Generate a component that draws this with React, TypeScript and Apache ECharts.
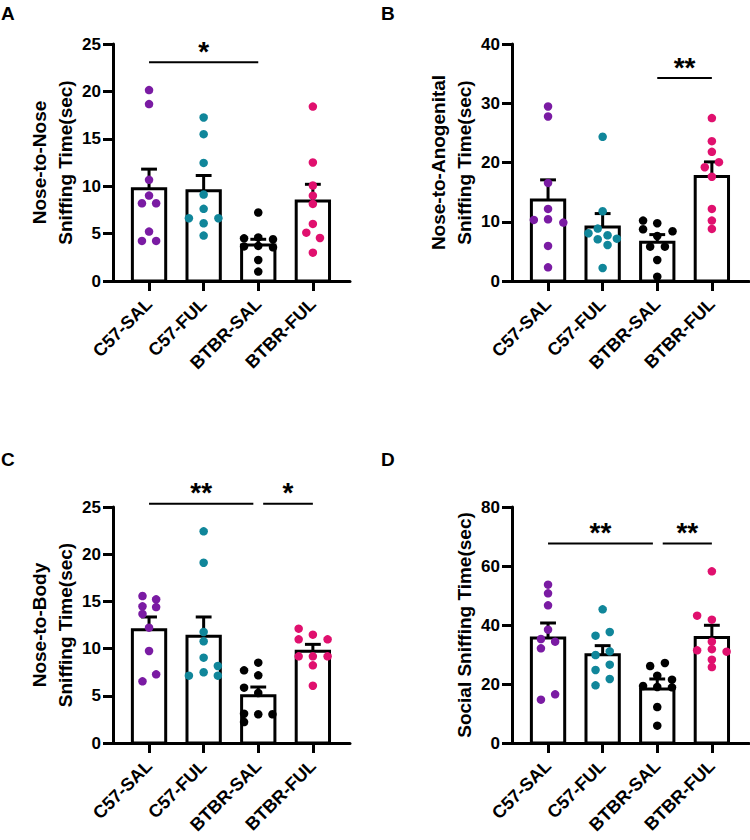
import React, { useEffect, useRef } from "react";
import * as echarts from "echarts";

const FONT = "'Liberation Sans', Arial, Helvetica, sans-serif";

const categories = ["C57-SAL", "C57-FUL", "BTBR-SAL", "BTBR-FUL"];
const groupColors = ["#7a1ba3", "#10869a", "#000000", "#e0106e"];

// Panel A: Nose-to-Nose
const nnTitle = "Nose-to-Nose\nSniffing Time(sec)";
const nnMax = 25;
const nnInterval = 5;
const nnMeans = [9.72, 9.51, 3.8, 8.45];
const nnSem = [2.08, 1.62, 0.6, 1.75];
const nnValues = [
  [20.14, 18.66, 10.67, 9.01, 8.2, 8.2, 5.21, 4.23, 4.23],
  [17.25, 15.49, 12.46, 9.12, 7.61, 6.62, 6.62, 6.09, 4.79],
  [7.22, 4.5, 4.6, 4.4, 3.65, 3.7, 3.55, 2.22, 0.99],
  [18.4, 12.5, 10.07, 9.0, 8.13, 6.02, 5.1, 4.54, 2.99],
];
const nnJitter = [
  [0, 0, 0, 0, -0.13, 0.13, 0, -0.13, 0.13],
  [0, 0, 0, 0, 0, -0.27, 0.27, 0, 0],
  [0, -0.26, 0, 0.27, -0.26, 0, 0.27, 0, 0],
  [0, 0, 0, 0, 0, 0, -0.12, 0.13, 0],
];
const nnSig = [{ from: 0, to: 2, y: 23.07, text: "*" }];

// Panel B: Nose-to-Anogenital
const naTitle = "Nose-to-Anogenital\nSniffing Time(sec)";
const naMax = 40;
const naInterval = 10;
const naMeans = [13.69, 9.13, 6.54, 17.63];
const naSem = [3.38, 2.25, 1.29, 2.47];
const naValues = [
  [29.46, 27.77, 16.56, 12.17, 10.42, 10.31, 9.86, 5.92, 2.31],
  [24.34, 11.77, 8.85, 8.06, 7.72, 7.15, 7.04, 6.08, 2.2],
  [10.2, 9.75, 8.73, 8.39, 7.6, 5.8, 5.8, 3.55, 0.73],
  [27.49, 23.6, 21.8, 20.06, 19.2, 17.6, 12.17, 10.2, 8.79],
];
const naJitter = [
  [0, 0, 0, 0, 0, -0.26, 0.28, 0, 0],
  [0, 0, -0.09, -0.26, 0.09, 0.26, -0.09, 0.09, 0],
  [-0.26, 0, -0.26, 0.28, 0, -0.13, 0.14, 0, 0],
  [0, 0, 0, 0.13, -0.13, 0, 0, 0, 0],
];
const naSig = [{ from: 2, to: 3, y: 34.25, text: "**" }];

// Panel C: Nose-to-Body
const nbTitle = "Nose-to-Body\nSniffing Time(sec)";
const nbMax = 25;
const nbInterval = 5;
const nbMeans = [12.0, 11.3, 5.01, 9.71];
const nbSem = [1.35, 2.05, 0.92, 0.74];
const nbValues = [
  [15.57, 15.22, 14.48, 14.4, 13.67, 12.22, 9.75, 7.27, 6.53],
  [22.42, 19.1, 11.76, 10.77, 9.04, 8.16, 7.49, 7.13, 7.13],
  [8.51, 7.7, 7.17, 5.86, 5.3, 3.1, 3.04, 3.04, 2.22],
  [12.11, 11.48, 10.98, 10.98, 9.18, 9.18, 9.18, 8.23, 6.07],
];
const nbJitter = [
  [-0.12, 0.13, -0.12, 0.13, -0.12, 0, 0, 0.13, -0.12],
  [0, 0, 0, 0, 0, 0.26, 0, -0.27, 0.26],
  [0, -0.26, 0, -0.26, 0, -0.26, 0, 0.26, -0.26],
  [-0.26, 0, -0.26, 0.27, -0.26, 0, 0.27, 0, 0],
];
const nbSig = [
  { from: 0, to: 1.91, y: 25.35, text: "**" },
  { from: 2.09, to: 3, y: 25.35, text: "*" },
];

// Panel D: Social Sniffing
const ssTitle = "Social Sniffing Time(sec)";
const ssMax = 80;
const ssInterval = 20;
const ssMeans = [35.59, 29.94, 18.3, 35.8];
const ssSem = [5.09, 3.06, 3.4, 4.1];
const ssValues = [
  [53.67, 50.73, 46.67, 38.42, 35.25, 34.35, 32.09, 16.5, 14.69],
  [45.31, 37.63, 36.38, 31.07, 29.83, 26.55, 24.75, 21.7, 19.55],
  [27.12, 26.1, 22.8, 21.47, 19.32, 18.87, 19.0, 12.2, 5.88],
  [58.19, 43.16, 41.8, 34.35, 31.4, 30.96, 31.8, 28.25, 25.76],
];
const ssJitter = [
  [0, 0, 0, 0, -0.13, 0.13, -0.13, 0.13, -0.13],
  [0, 0.13, -0.13, 0.13, -0.13, 0.13, -0.13, 0.13, -0.13],
  [0.14, -0.13, 0, 0.27, -0.26, 0.27, 0, 0, 0],
  [0, -0.27, 0, 0, -0.27, 0.27, 0, 0, 0],
];
const ssSig = [
  { from: 0, to: 1.92, y: 67.6, text: "**" },
  { from: 2.1, to: 3, y: 67.6, text: "**" },
];

type Sig = { from: number; to: number; y: number; text: string };
type Panel = {
  letter: string;
  title: string;
  max: number;
  interval: number;
  means: number[];
  sem: number[];
  values: number[][];
  jitter: number[][];
  sig: Sig[];
  left: number;
  top: number;
  height: number;
};

const panels: Panel[] = [
  { letter: "A", title: nnTitle, max: nnMax, interval: nnInterval, means: nnMeans, sem: nnSem, values: nnValues, jitter: nnJitter, sig: nnSig, left: 113, top: 44, height: 237 },
  { letter: "B", title: naTitle, max: naMax, interval: naInterval, means: naMeans, sem: naSem, values: naValues, jitter: naJitter, sig: naSig, left: 512, top: 44, height: 237 },
  { letter: "C", title: nbTitle, max: nbMax, interval: nbInterval, means: nbMeans, sem: nbSem, values: nbValues, jitter: nbJitter, sig: nbSig, left: 113, top: 507, height: 236 },
  { letter: "D", title: ssTitle, max: ssMax, interval: ssInterval, means: ssMeans, sem: ssSem, values: ssValues, jitter: ssJitter, sig: ssSig, left: 512, top: 507, height: 236 },
];

const GRID_W = 237;
const X_MIN = -0.66;
const X_MAX = 3.68;
const BAR_HALF = 0.305;
const CAP_HALF = 0.145;

function buildOption() {
  const grid: any[] = [];
  const xAxis: any[] = [];
  const yAxis: any[] = [];
  const series: any[] = [];
  const graphic: any[] = [];

  panels.forEach((p, i) => {
    grid.push({
      left: p.left,
      top: p.top,
      width: GRID_W,
      height: p.height,
      containLabel: false,
      outerBoundsMode: "none",
    });
    xAxis.push({
      gridIndex: i,
      type: "value",
      min: X_MIN,
      max: X_MAX,
      splitLine: { show: false },
      axisLine: { show: true, onZero: false, lineStyle: { color: "#000", width: 3 } },
      axisTick: {
        show: true,
        customValues: [0, 1, 2, 3],
        length: 10,
        lineStyle: { color: "#000", width: 3 },
      },
      axisLabel: {
        show: true,
        customValues: [0, 1, 2, 3],
        formatter: (v: number) => categories[Math.round(v)] ?? "",
        rotate: 45,
        margin: 20,
        color: "#000",
        fontSize: 18,
        fontWeight: "bold",
        fontFamily: FONT,
      },
    });
    yAxis.push({
      gridIndex: i,
      type: "value",
      min: 0,
      max: p.max,
      interval: p.interval,
      splitLine: { show: false },
      axisLine: { show: true, onZero: false, lineStyle: { color: "#000", width: 3 } },
      axisTick: { show: true, length: 10, lineStyle: { color: "#000", width: 3 } },
      axisLabel: {
        show: true,
        margin: 12,
        color: "#000",
        fontSize: 17,
        fontWeight: "bold",
        fontFamily: FONT,
      },
    });

    // bars + error bars
    series.push({
      type: "custom",
      xAxisIndex: i,
      yAxisIndex: i,
      z: 2,
      silent: true,
      data: p.means.map((m, k) => [k, m, p.sem[k]]),
      renderItem: (_params: any, api: any) => {
        const x = api.value(0);
        const m = api.value(1);
        const s = api.value(2);
        const b0 = api.coord([x - BAR_HALF, 0]);
        const b1 = api.coord([x + BAR_HALF, m]);
        const e0 = api.coord([x, m]);
        const e1 = api.coord([x, m + s]);
        const c0 = api.coord([x - CAP_HALF, m + s]);
        const c1 = api.coord([x + CAP_HALF, m + s]);
        return {
          type: "group",
          children: [
            {
              type: "rect",
              shape: { x: b0[0], y: b1[1], width: b1[0] - b0[0], height: b0[1] - b1[1] },
              style: { fill: "#fff", stroke: "#000", lineWidth: 3 },
            },
            {
              type: "line",
              shape: { x1: e0[0], y1: e0[1], x2: e1[0], y2: e1[1] },
              style: { stroke: "#000", lineWidth: 3 },
            },
            {
              type: "line",
              shape: { x1: c0[0], y1: c0[1], x2: c1[0], y2: c1[1] },
              style: { stroke: "#000", lineWidth: 3 },
            },
          ],
        };
      },
    });

    // points
    p.values.forEach((vals, k) => {
      series.push({
        type: "scatter",
        xAxisIndex: i,
        yAxisIndex: i,
        z: 3,
        silent: true,
        symbol: "circle",
        symbolSize: 8.5,
        itemStyle: { color: groupColors[k], opacity: 1 },
        data: vals.map((v, j) => [k + p.jitter[k][j], v]),
      });
    });

    // significance
    series.push({
      type: "custom",
      xAxisIndex: i,
      yAxisIndex: i,
      z: 4,
      silent: true,
      clip: false,
      data: p.sig.map((s) => [s.from, s.to, s.y]),
      renderItem: (params: any, api: any) => {
        const a = api.coord([api.value(0), api.value(2)]);
        const b = api.coord([api.value(1), api.value(2)]);
        const txt = p.sig[params.dataIndex].text;
        return {
          type: "group",
          children: [
            {
              type: "line",
              shape: { x1: a[0], y1: a[1], x2: b[0], y2: b[1] },
              style: { stroke: "#000", lineWidth: 2 },
            },
            {
              type: "text",
              style: {
                text: txt,
                x: (a[0] + b[0]) / 2,
                y: a[1] + 3,
                align: "center",
                verticalAlign: "bottom",
                fontSize: 28,
                fontWeight: "bold",
                fontFamily: FONT,
                fill: "#000",
              },
            },
          ],
        };
      },
    });

    // y-axis title
    const nLines = p.title.split("\n").length;
    graphic.push({
      type: "text",
      x: p.left - 48 - 13 * (nLines - 1),
      y: p.top + p.height / 2,
      rotation: Math.PI / 2,
      style: {
        text: p.title,
        align: "center",
        verticalAlign: "middle",
        fontSize: 19,
        lineHeight: 26,
        fontWeight: "bold",
        fontFamily: FONT,
        fill: "#000",
      },
    });

    // panel letter
    graphic.push({
      type: "text",
      x: p.left < 300 ? 1 : 381,
      y: p.top < 300 ? 13 : 459,
      style: {
        text: p.letter,
        align: "left",
        verticalAlign: "middle",
        fontSize: 19,
        fontWeight: "bold",
        fontFamily: FONT,
        fill: "#000",
      },
    });
  });

  return {
    animation: false,
    backgroundColor: "#fff",
    grid,
    xAxis,
    yAxis,
    series,
    graphic,
  };
}

export default function App() {
  const ref = useRef<HTMLDivElement>(null);
  useEffect(() => {
    if (!ref.current) return;
    const chart = echarts.init(ref.current, undefined, { renderer: "svg" });
    chart.setOption(buildOption() as any);
    return () => {
      chart.dispose();
    };
  }, []);
  return (
    <div
      ref={ref}
      style={{ position: "fixed", left: 0, top: 0, width: 750, height: 840, background: "#fff" }}
    />
  );
}
